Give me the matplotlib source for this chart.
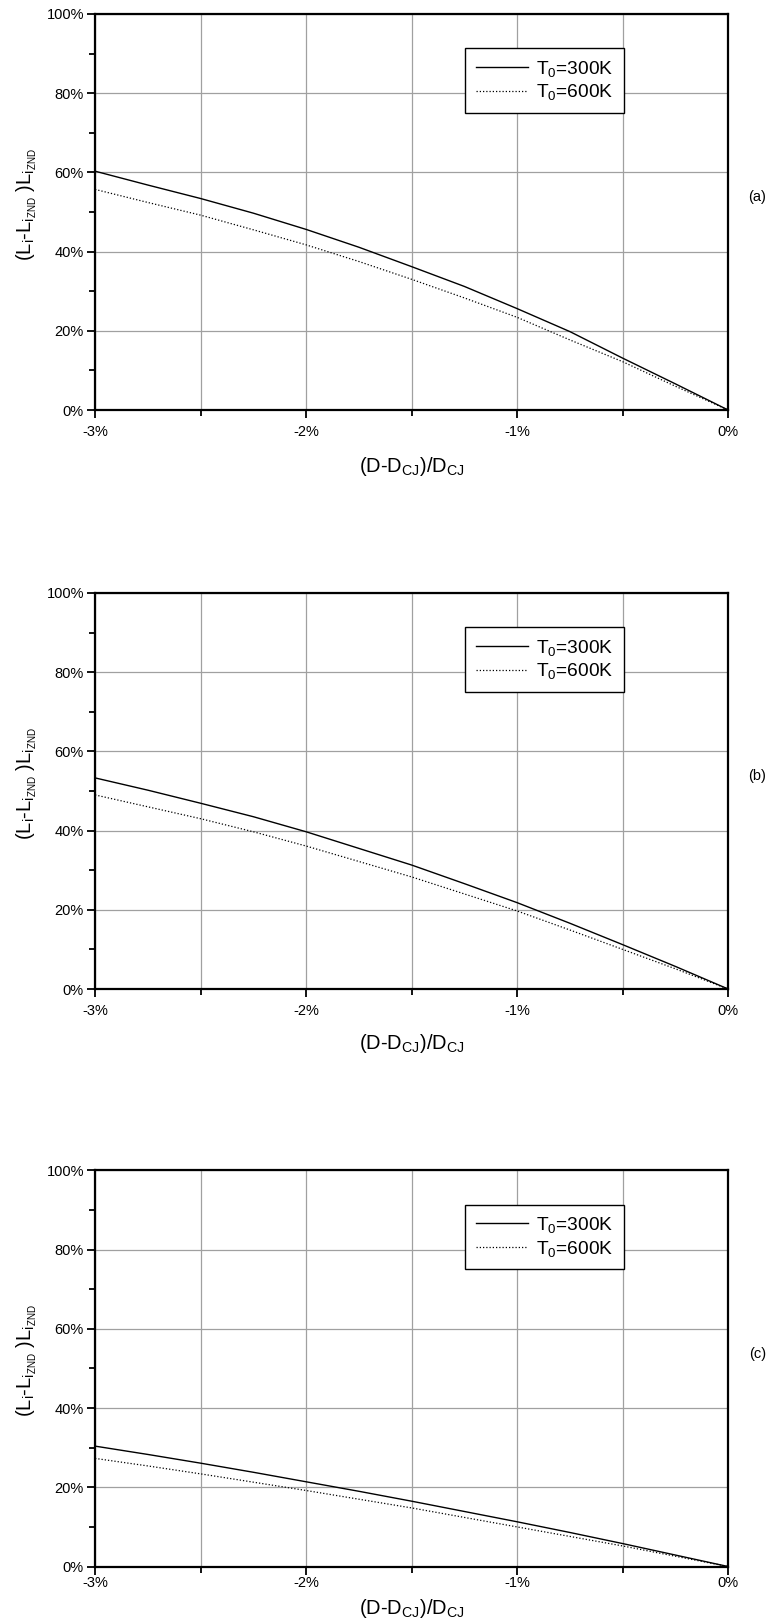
import matplotlib
matplotlib.use('Agg')
import matplotlib.pyplot as plt
from matplotlib.ticker import MultipleLocator, FuncFormatter

plt.rcParams.update({
    'font.family': ['Liberation Sans', 'DejaVu Sans'],
    'mathtext.fontset': 'custom',
    'mathtext.rm': 'Liberation Sans',
    'mathtext.it': 'Liberation Sans',
    'font.size': 10.5,
})

# deviation from CJ velocity, %
dev = [-3.0, -2.75, -2.5, -2.25, -2.0, -1.75, -1.5, -1.25, -1.0, -0.75, -0.5, -0.25, 0.0]

# relative induction length change, % -- panels (a), (b), (c)
a_300 = [60.3, 56.8, 53.4, 49.7, 45.6, 41.1, 36.2, 31.2, 25.6, 19.8, 13.1, 6.6, 0.0]
a_600 = [55.7, 52.4, 49.2, 45.5, 41.7, 37.5, 33.0, 28.3, 23.4, 17.7, 12.2, 6.0, 0.0]
b_300 = [53.3, 50.2, 46.9, 43.5, 39.7, 35.5, 31.3, 26.6, 21.8, 16.6, 11.2, 5.7, 0.0]
b_600 = [49.0, 46.0, 43.0, 39.7, 36.1, 32.2, 28.3, 24.0, 19.7, 14.9, 10.0, 5.1, 0.0]
c_300 = [30.4, 28.3, 26.1, 23.8, 21.4, 19.0, 16.5, 13.9, 11.3, 8.6, 5.8, 2.9, 0.0]
c_600 = [27.3, 25.4, 23.4, 21.3, 19.2, 17.0, 14.8, 12.4, 10.0, 7.6, 5.2, 2.6, 0.0]

panels = [('(a)', a_300, a_600), ('(b)', b_300, b_600), ('(c)', c_300, c_600)]

# per panel: axes bottom (fig frac), x tick pad, x label offset (axes frac)
bottoms = [0.7469, 0.3895, 0.0330]
xpads = [4.5, 5.0, 0.5]
xlab_y = [-0.113, -0.108, -0.078]

fig = plt.figure(figsize=(7.73, 16.2), dpi=100)

for (tag, s300, s600), y0, xp, xl in zip(panels, bottoms, xpads, xlab_y):
    ax = fig.add_axes([0.123, y0, 0.819, 0.2445])
    ax.plot(dev, s300, '-', color='black', lw=1.0, label=r'T$_0$=300K')
    ax.plot(dev, s600, linestyle=(0, (1, 1.6)), color='black', lw=0.9,
            label=r'T$_0$=600K')
    ax.set_xlim(-3, 0)
    ax.set_ylim(0, 100)
    ax.xaxis.set_major_locator(MultipleLocator(1))
    ax.xaxis.set_minor_locator(MultipleLocator(0.5))
    ax.yaxis.set_major_locator(MultipleLocator(20))
    ax.yaxis.set_minor_locator(MultipleLocator(10))
    ax.xaxis.set_major_formatter(FuncFormatter(lambda v, p: f'{v:.0f}%'.replace('-0%', '0%')))
    ax.yaxis.set_major_formatter(FuncFormatter(lambda v, p: f'{v:.0f}%'))
    ax.grid(True, which='major', color='#a0a0a0', lw=0.9)
    ax.grid(True, which='minor', axis='x', color='#a0a0a0', lw=0.9)
    ax.tick_params(which='both', direction='out', width=1.3, labelsize=10.5)
    ax.tick_params(which='major', length=6)
    ax.tick_params(which='minor', length=4.5)
    ax.tick_params(axis='y', which='major', pad=2)
    ax.tick_params(axis='x', which='major', pad=xp)
    for sp in ax.spines.values():
        sp.set_linewidth(1.6)
    ax.set_xlabel(r'(D-D$_{\mathrm{CJ}}$)/D$_{\mathrm{CJ}}$', fontsize=14.5)
    ax.xaxis.set_label_coords(0.5, xl)
    ax.set_ylabel(r'(L$_\mathrm{i}$-L$_{\mathrm{i}_{\mathrm{ZND}}}$ )L$_{\mathrm{i}_{\mathrm{ZND}}}$',
                  fontsize=14.5)
    ax.yaxis.set_label_coords(-0.088, 0.52)
    ax.text(1.046, 0.537, tag, transform=ax.transAxes, ha='center', va='center',
            fontsize=10.5)
    leg = ax.legend(loc='upper left', bbox_to_anchor=(0.585, 0.914), fontsize=13.8,
                    frameon=True, fancybox=False, framealpha=1, edgecolor='black',
                    handlelength=2.7, borderpad=0.55, labelspacing=0.2,
                    handletextpad=0.45, borderaxespad=0)
    leg.get_frame().set_linewidth(1.0)
    # a touch of extra side padding, as in the reference box
    leg._legend_box.sep = 0
    leg._legend_handle_box.sep = 7

fig.savefig('out.png', dpi=100)
